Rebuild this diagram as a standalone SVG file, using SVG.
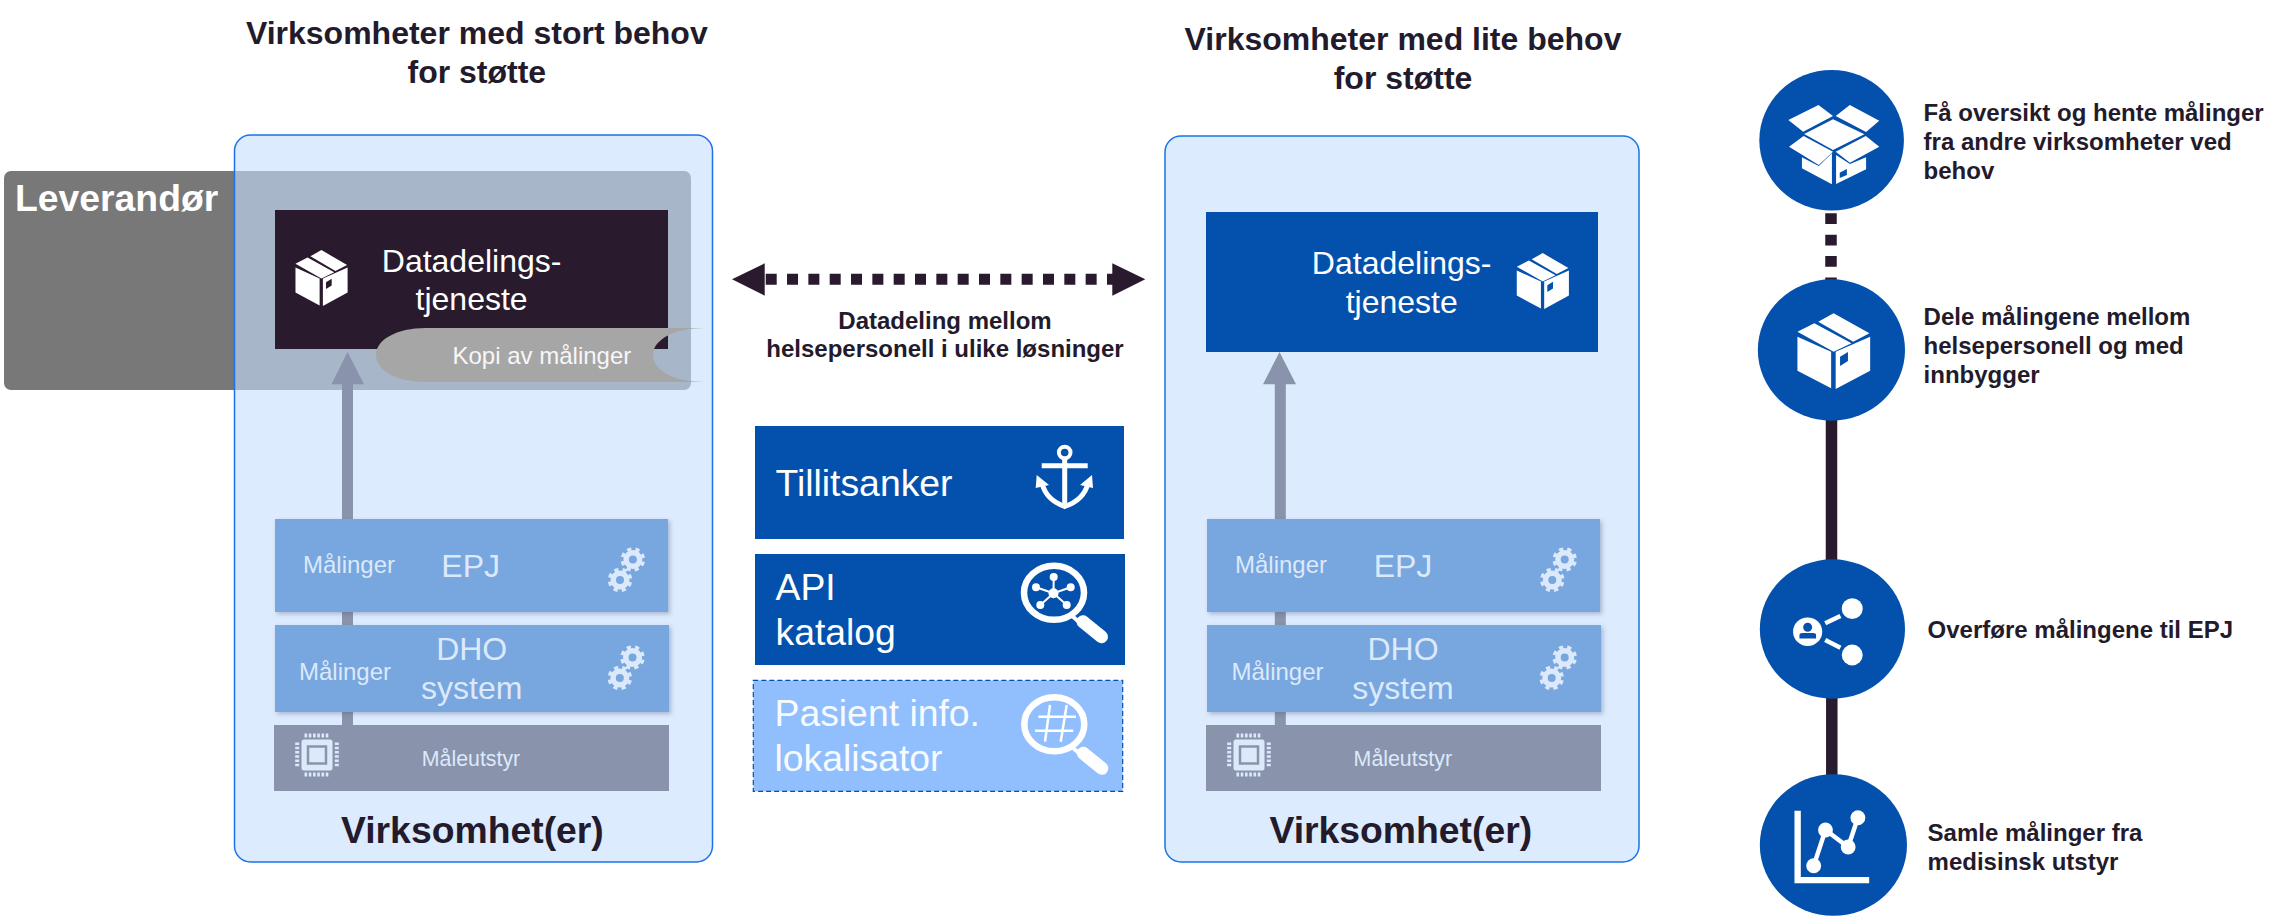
<svg xmlns="http://www.w3.org/2000/svg" width="2270" height="923" viewBox="0 0 2270 923">
<style>
text{font-family:"Liberation Sans",Arial,sans-serif}
.head{font-size:32px;font-weight:700;fill:#231a2b;text-anchor:middle}
.org{font-size:37.33px;font-weight:700;fill:#231a2b;text-anchor:middle}
.svc{font-size:32px;fill:#fff;text-anchor:middle}
.sys{font-size:32px;fill:#dce9fb;text-anchor:middle}
.mal{font-size:24px;fill:#dce9fb}
.dev{font-size:21.33px;fill:#dce9fb;text-anchor:middle}
.cap{font-size:24px;font-weight:700;fill:#231a2b}
.cat{font-size:37.33px;fill:#fff}
.panel{fill:#c5defd;fill-opacity:.607;stroke:#1a73e8;stroke-width:1.5}
.sysbox{fill:#78a6de;filter:url(#sh)}
.devbox{fill:#8993ab}
.blue{fill:#0451ad}
.dot{fill:#fff}
.flow{fill:#8993ab}
.line{stroke:#291b2d;stroke-width:11.5;fill:none}
</style>
<defs>
<filter id="sh" x="-5%" y="-10%" width="110%" height="125%"><feDropShadow dx="2" dy="2" stdDeviation="2" flood-color="#44557a" flood-opacity=".35"/></filter>
<g id="box"><path fill-rule="evenodd" d="M-36.5-14.3L-2.5.7V37.3L-36.5 19.7ZM2.1.7L36.9-14.3V19.7L2.1 38ZM6.5 5.7L14.500 1V10L6.500 15ZM-36.5-19.300L-19.500-27.700L18.100-7.700L0 .7ZM-15.500-29.300L0-37.700L36.200-17.700L19.800-9.300Z"/></g>
<g id="gear" fill="none" stroke="#dce9fb"><circle r="6.75" stroke-width="5.500"/><circle r="10.500" stroke-width="3.500" stroke-dasharray="4.200 4.050" transform="rotate(12)"/></g>
<g id="chip"><rect x="-15.500" y="-15.500" width="31" height="31" rx="2.500" fill="#dce9fb"/><rect x="-9" y="-8.500" width="18" height="17" fill="#dce9fb" stroke="#8993ab" stroke-width="2.500"/><g fill="none" stroke="#dce9fb" stroke-width="4" stroke-dasharray="2.600 1.650"><path d="M-12.500-19.500H13M-12.500 19.500H13M-19.800-12.500V12.500M19.800-12.500V12.500"/></g></g>
<g id="glass" fill="none" stroke="#fff"><ellipse rx="30" ry="27" stroke-width="6.500"/><path d="M19 24L26 30" stroke-width="4"/><path d="M29 29L47.500 44" stroke-width="13" stroke-linecap="round"/></g>
</defs>
<rect width="2270" height="923" fill="#fff"/>

<g id="leverandor-box"><rect x="4" y="171" width="687" height="219" rx="7" fill="#787878"/></g>
<g id="panel-left"><rect class="panel" x="234.500" y="135" width="478" height="727" rx="16"/></g>
<g id="panel-right"><rect class="panel" x="1165" y="136" width="474" height="726" rx="16"/></g>
<g id="leverandor-label"><text x="15" y="210.500" font-size="37.33" font-weight="700" fill="#fff">Leverandør</text></g>

<g id="connectors">
<path class="flow" d="M347.500 352L364 384.300H353V730H342V384.300H331.500Z"/>
<path class="flow" d="M1279.500 352L1296 384.300H1285.800V730H1274.800V384.300H1263Z"/>
<path d="M732 279.300L764.700 263.300V295.700ZM1145.300 279.300L1112.300 263.300V295.700Z" fill="#291b2d"/>
<path d="M765.700 279.300H1114" stroke="#291b2d" stroke-width="11" stroke-dasharray="11 10.330" fill="none"/>
<path class="line" d="M1831 213.300V285" stroke-dasharray="10.700 10.700"/>
<path class="line" d="M1831.500 410V570"/>
<path class="line" d="M1831.800 690V785"/>
</g>

<g id="head-left"><text class="head" x="476.800" y="44">Virksomheter med stort behov</text><text class="head" x="476.800" y="83">for støtte</text></g>
<g id="head-right"><text class="head" x="1403" y="50">Virksomheter med lite behov</text><text class="head" x="1403" y="89">for støtte</text></g>

<g id="datadeling-left"><rect x="275" y="210" width="393" height="139" fill="#291b2d"/>
<use href="#box" fill="#fff" transform="translate(321.400 278) scale(.71 .74)"/>
<text class="svc" x="471.600" y="272">Datadelings-</text><text class="svc" x="471.600" y="310">tjeneste</text></g>
<g id="kopi"><path fill="#a6a6a6" d="M426 328H704C676 328 653 339 653 355C653 371 676 382 704 382H426C396 382 376 370 376 355C376 340 396 328 426 328Z"/>
<text x="452.500" y="364" font-size="24" fill="#f7f7f7">Kopi av målinger</text></g>

<g id="epj-left"><rect class="sysbox" x="275" y="519" width="393" height="93"/>
<text class="mal" x="303" y="573">Målinger</text><text class="sys" x="470.700" y="577">EPJ</text>
<use href="#gear" x="632.900" y="559.500"/><use href="#gear" x="620" y="580"/></g>
<g id="dho-left"><rect class="sysbox" x="275" y="625" width="394" height="87"/>
<text class="mal" x="299" y="680">Målinger</text><text class="sys" x="471.700" y="660">DHO</text><text class="sys" x="471.700" y="699">system</text>
<use href="#gear" x="632.500" y="657.500"/><use href="#gear" x="619.800" y="678"/></g>
<g id="utstyr-left"><rect class="devbox" x="274" y="725" width="395" height="66"/>
<use href="#chip" x="317" y="755"/><text class="dev" x="471" y="766">Måleutstyr</text></g>
<g id="org-left"><text class="org" x="472.400" y="843">Virksomhet(er)</text></g>

<g id="datadeling-right"><rect class="blue" x="1206" y="212" width="392" height="140"/>
<use href="#box" fill="#fff" transform="translate(1542.700 281) scale(.71 .74)"/>
<text class="svc" x="1401.700" y="274">Datadelings-</text><text class="svc" x="1401.700" y="313">tjeneste</text></g>
<g id="epj-right"><rect class="sysbox" x="1207" y="519" width="393" height="93"/>
<text class="mal" x="1235" y="573">Målinger</text><text class="sys" x="1403" y="577">EPJ</text>
<use href="#gear" x="1564.700" y="559.500"/><use href="#gear" x="1552.300" y="580"/></g>
<g id="dho-right"><rect class="sysbox" x="1207" y="625" width="394" height="87"/>
<text class="mal" x="1231.500" y="680">Målinger</text><text class="sys" x="1403" y="660">DHO</text><text class="sys" x="1403" y="699">system</text>
<use href="#gear" x="1564.700" y="657.500"/><use href="#gear" x="1551.700" y="678"/></g>
<g id="utstyr-right"><rect class="devbox" x="1206" y="725" width="395" height="66"/>
<use href="#chip" x="1249" y="755"/><text class="dev" x="1402.800" y="766">Måleutstyr</text></g>
<g id="org-right"><text class="org" x="1400.800" y="843">Virksomhet(er)</text></g>

<g id="datadeling-label"><text class="cap" x="945" y="329" text-anchor="middle">Datadeling mellom</text><text class="cap" x="945" y="357.300" text-anchor="middle">helsepersonell i ulike løsninger</text></g>

<g id="tillitsanker"><rect class="blue" x="755" y="426" width="369" height="113"/>
<text class="cat" x="775.500" y="496">Tillitsanker</text>
<circle cx="1064.700" cy="452.500" r="5.800" fill="none" stroke="#fff" stroke-width="4"/>
<path d="M1041.700 465.800H1087.700M1064.700 458V506" stroke="#fff" stroke-width="5" fill="none"/>
<path d="M1042 483C1045 496 1055 503 1064.700 506.500C1075 503 1085 496 1088 483" stroke="#fff" stroke-width="5" fill="none"/>
<path d="M1036.700 475L1035.700 488L1049 485ZM1092 475L1093 488L1080 485Z" fill="#fff"/></g>
<g id="api-katalog"><rect class="blue" x="755" y="554" width="370" height="111"/>
<text class="cat" x="775.500" y="600">API</text><text class="cat" x="775.500" y="645.300">katalog</text>
<use href="#glass" x="1054" y="592.700"/>
<g fill="#fff"><circle cx="1053.500" cy="593.300" r="5"/><circle cx="1053.700" cy="577" r="4"/><circle cx="1070.700" cy="587.300" r="4"/><circle cx="1066.700" cy="605" r="4"/><circle cx="1040.300" cy="605" r="4"/><circle cx="1036" cy="587.300" r="4"/></g>
<path d="M1053.500 593.300L1053.700 577M1053.500 593.300L1070.700 587.300M1053.500 593.300L1066.700 605M1053.500 593.300L1040.300 605M1053.500 593.300L1036 587.300" stroke="#fff" stroke-width="2"/></g>
<g id="pasient-info"><rect x="753.300" y="680.300" width="369.400" height="111" fill="#91bffd" stroke="#0451ad" stroke-width="1.200" stroke-dasharray="5 3"/>
<text class="cat" x="774.500" y="726" fill-opacity=".95">Pasient info.</text><text class="cat" x="774.500" y="771" fill-opacity=".95">lokalisator</text>
<use href="#glass" x="1054.300" y="724.300"/>
<path d="M1038.300 716.700H1076M1035 730.700H1073.300M1050 705L1045 741.700M1066.700 705L1060.700 741.700" stroke="#fff" stroke-width="2.500" fill="none"/></g>

<g id="step-hente"><g transform="matrix(.9905 0 0 1 16.530 0)"><ellipse class="blue" cx="1832.500" cy="140.300" rx="73" ry="70.300"/>
<path class="dot" fill-rule="evenodd" d="M1788.800 120L1819.200 105L1833.900 116L1803.800 131.700ZM1836.600 116L1850.900 105L1880.600 120.700L1867.300 132ZM1804.800 134L1833.900 119.300L1865.600 134.300L1833.900 150ZM1789.500 146.700L1804.200 136L1833.900 151.700L1819.500 165ZM1836.600 151.700L1867 136L1880.600 146.700L1851 162.700ZM1802.500 157.300L1819.500 166L1832.800 153.300V184.300L1802.500 168.300ZM1837 155L1851 164L1867.300 157.300V169.300L1837 184ZM1840.700 172.700L1847.900 169V175L1840.700 178Z"/></g>
<text class="cap" x="1923.600" y="120.700">Få oversikt og hente målinger</text><text class="cap" x="1923.600" y="149.700">fra andre virksomheter ved</text><text class="cap" x="1923.600" y="178.700">behov</text></g>
<g id="step-dele"><g transform="matrix(.9905 0 0 1 16.530 0)"><ellipse class="blue" cx="1832.300" cy="350" rx="74.300" ry="70.700"/>
<use href="#box" fill="#fff" x="1834.500" y="351"/></g>
<text class="cap" x="1923.600" y="325">Dele målingene mellom</text><text class="cap" x="1923.600" y="354.300">helsepersonell og med</text><text class="cap" x="1923.600" y="383.300">innbygger</text></g>
<g id="step-overfore"><g transform="matrix(.9905 0 0 1 16.530 0)"><ellipse class="blue" cx="1833.300" cy="629" rx="73.300" ry="69.700"/>
<ellipse class="dot" cx="1808.300" cy="631.700" rx="14.700" ry="14.300"/>
<circle class="blue" cx="1808.300" cy="627.300" r="4.500"/><path class="blue" d="M1800 638.500V635Q1800 633 1803 633H1813.500Q1816.800 633 1816.800 635V638.500Z"/>
<ellipse class="dot" cx="1853.300" cy="608.700" rx="10.600" ry="10.400"/><ellipse class="dot" cx="1853.300" cy="655" rx="10.600" ry="10.400"/>
<path d="M1826 623.300L1841.400 616M1826 640L1841.400 647.700" stroke="#fff" stroke-width="4.500"/></g>
<text class="cap" x="1927.600" y="637.700">Overføre målingene til EPJ</text></g>
<g id="step-samle"><g transform="matrix(.9905 0 0 1 16.530 0)"><ellipse class="blue" cx="1834.300" cy="845" rx="74.300" ry="70.800"/>
<path class="dot" d="M1795 810.700H1801.400V877H1870.400V883.300H1795Z"/>
<path d="M1814.400 865.700L1826.300 830L1849.200 847L1859 817.700" stroke="#fff" stroke-width="4.500" fill="none"/>
<circle class="dot" cx="1814.400" cy="865.700" r="7.500"/><circle class="dot" cx="1826.300" cy="830" r="7.500"/><circle class="dot" cx="1849.200" cy="847" r="7.500"/><circle class="dot" cx="1859" cy="817.700" r="7.500"/></g>
<text class="cap" x="1927.600" y="840.700">Samle målinger fra</text><text class="cap" x="1927.600" y="870">medisinsk utstyr</text></g>
</svg>
